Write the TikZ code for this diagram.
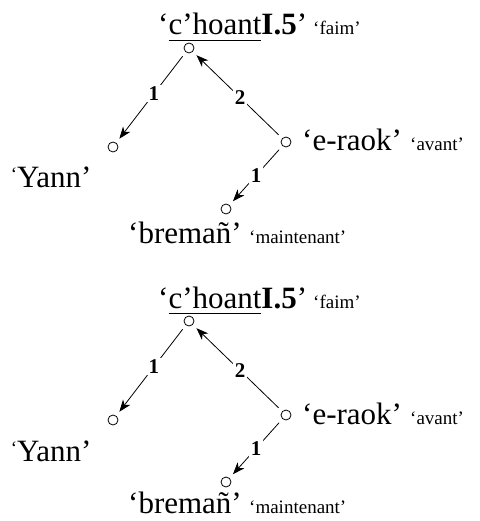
\documentclass[tikz,border=0pt]{standalone}
\usepackage{fontspec}
\setmainfont{Liberation Serif}
\usetikzlibrary{arrows.meta}
\newcommand\myul[1]{\setbox0\hbox{#1}\rlap{\rule[-6pt]{\wd0}{0.8pt}}\box0}
\begin{document}
\begin{tikzpicture}[x=1pt,y=-1pt,
  vert/.style={circle,draw,line width=0.8pt,minimum size=10pt,inner sep=0pt},
  big/.style={font=\fontsize{31}{37}\selectfont,inner sep=0pt,anchor=base west},
  gloss/.style={font=\fontsize{19}{23}\selectfont,inner sep=0pt,anchor=base west},
  arc/.style={line width=0.8pt,-{Stealth[length=12pt,width=9pt,inset=3.5pt]},shorten >=5pt,shorten <=5pt},
  lab/.style={font=\fontsize{21}{25}\selectfont\bfseries,fill=white,inner sep=1.5pt}]
\useasboundingbox (0,0) rectangle (479,521);
\foreach \i/\dy/\bb in {a/0/243,b/273/240}{
 \begin{scope}[yshift=-\dy pt]
  \node[vert] (r\i) at (189,48) {};
  \node[big] (t\i) at (158,35) {‘\myul{c’hoant}\textbf{I.5}’};
  \node[gloss] (tg\i) at (313,35) {‘faim’};
  \node[vert] (y\i) at (113,147) {};
  \node[big] (yt\i) at (17,188) {\llap{\raisebox{7pt}{\fontsize{19}{23}\selectfont‘}}Yann’};
  \node[vert] (e\i) at (286,142) {};
  \node[big] (et\i) at (302,151) {‘e-raok’};
  \node[gloss] (eg\i) at (410,151) {‘avant’};
  \node[vert] (b\i) at (226,209) {};
  \node[big] (bt\i) at (128,\bb) {‘bremañ’};
  \node[gloss] (bg\i) at (249,\bb) {‘maintenant’};
  \draw[arc] (r\i) -- node[lab,pos=0.46]{1} (y\i);
  \draw[arc] (e\i) -- node[lab,pos=0.47]{2} (r\i);
  \draw[arc] (e\i) -- node[lab,pos=0.5]{1} (b\i);
 \end{scope}
}
\end{tikzpicture}
\end{document}
